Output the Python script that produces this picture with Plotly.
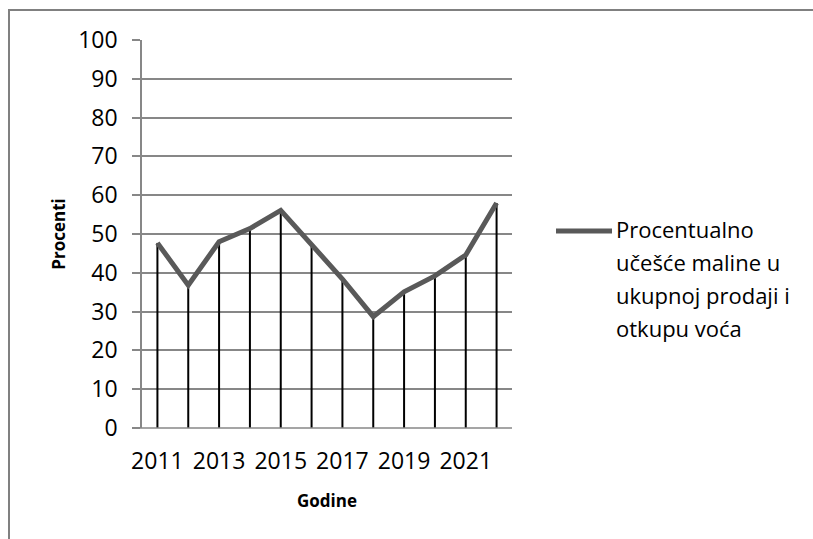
import plotly.graph_objects as go

# Share of raspberries in total fruit sales and purchase, by year (%)
years = [2011, 2012, 2013, 2014, 2015, 2016, 2017, 2018, 2019, 2020, 2021, 2022]
share = [47.7, 36.8, 48.0, 51.4, 56.1, 47.1, 38.4, 28.7, 35.1, 39.2, 44.6, 58.0]

x_tick_vals = [2011, 2013, 2015, 2017, 2019, 2021]
x_tick_text = ["2011", "2013", "2015", "2017", "2019", "2021"]
y_tick_vals = [0, 10, 20, 30, 40, 50, 60, 70, 80, 90, 100]

series_name = "Procentualno<br>učešće maline u<br>ukupnoj prodaji i<br>otkupu voća"
legend_lines = ["Procentualno", "učešće maline u", "ukupnoj prodaji i", "otkupu voća"]

FONT = "Open Sans, Lato, Arial, sans-serif"
LINE_COLOR = "#595959"
GRID_COLOR = "#878787"

W, H = 813, 539
L, R, T, B = 142, 301, 40, 111
PW, PH = W - L - R, H - T - B


def px_x(px):
    return (px - L) / PW


def px_y(py):
    return (H - B - py) / PH


# drop lines from the axis up to each value
drop_x, drop_y = [], []
for yr, v in zip(years, share):
    drop_x += [yr, yr, None]
    drop_y += [0, v, None]

fig = go.Figure()
fig.add_trace(go.Scatter(
    x=drop_x, y=drop_y, mode="lines",
    line=dict(color="#000000", width=2),
    hoverinfo="skip", showlegend=False,
))
fig.add_trace(go.Scatter(
    x=years, y=share, mode="lines", name=series_name,
    line=dict(color=LINE_COLOR, width=5),
    showlegend=False,
))

fig.update_layout(
    width=W, height=H,
    margin=dict(l=L, r=R, t=T, b=B, autoexpand=False),
    paper_bgcolor="white", plot_bgcolor="white",
    font=dict(family=FONT, size=23, color="#000000"),
    showlegend=False,
)

fig.update_xaxes(
    range=[2010.5, 2022.5],
    tickmode="array", tickvals=x_tick_vals, ticktext=x_tick_text,
    ticks="", showgrid=False, zeroline=False,
    showline=False,
    ticklabelstandoff=17,
    tickfont=dict(size=23),
    title=dict(text="<b>Godine</b>", font=dict(size=17), standoff=20),
)
fig.update_yaxes(
    range=[0, 100],
    tickmode="array", tickvals=y_tick_vals,
    ticks="outside", ticklen=8, tickwidth=1.5, tickcolor=GRID_COLOR,
    showgrid=True, gridcolor=GRID_COLOR, gridwidth=1.5,
    showline=True, linecolor=GRID_COLOR, linewidth=1.5,
    zeroline=False,
    ticklabelstandoff=10,
    tickfont=dict(size=23),
    title=dict(text="<b>Procenti</b>", font=dict(size=17), standoff=8),
)

shapes = [
    # baseline of the category axis
    dict(type="line", xref="paper", yref="paper",
         x0=px_x(134), x1=1, y0=0, y1=0,
         line=dict(color=GRID_COLOR, width=1.5)),
    # outer chart frame
    dict(type="rect", xref="paper", yref="paper",
         x0=px_x(9), x1=px_x(830), y0=px_y(10), y1=px_y(560),
         line=dict(color="#808080", width=2), layer="below"),
    # legend key
    dict(type="line", xref="paper", yref="paper",
         x0=px_x(556), x1=px_x(612), y0=px_y(231), y1=px_y(231),
         line=dict(color=LINE_COLOR, width=5)),
]

annotations = []
for i, txt in enumerate(legend_lines):
    annotations.append(dict(
        xref="paper", yref="paper",
        x=px_x(614), y=px_y(229 + i * 33),
        xanchor="left", yanchor="middle",
        text=txt, showarrow=False,
        font=dict(family=FONT, size=22, color="#000000"),
    ))

fig.update_layout(shapes=shapes, annotations=annotations)

fig.write_html("out.html")
